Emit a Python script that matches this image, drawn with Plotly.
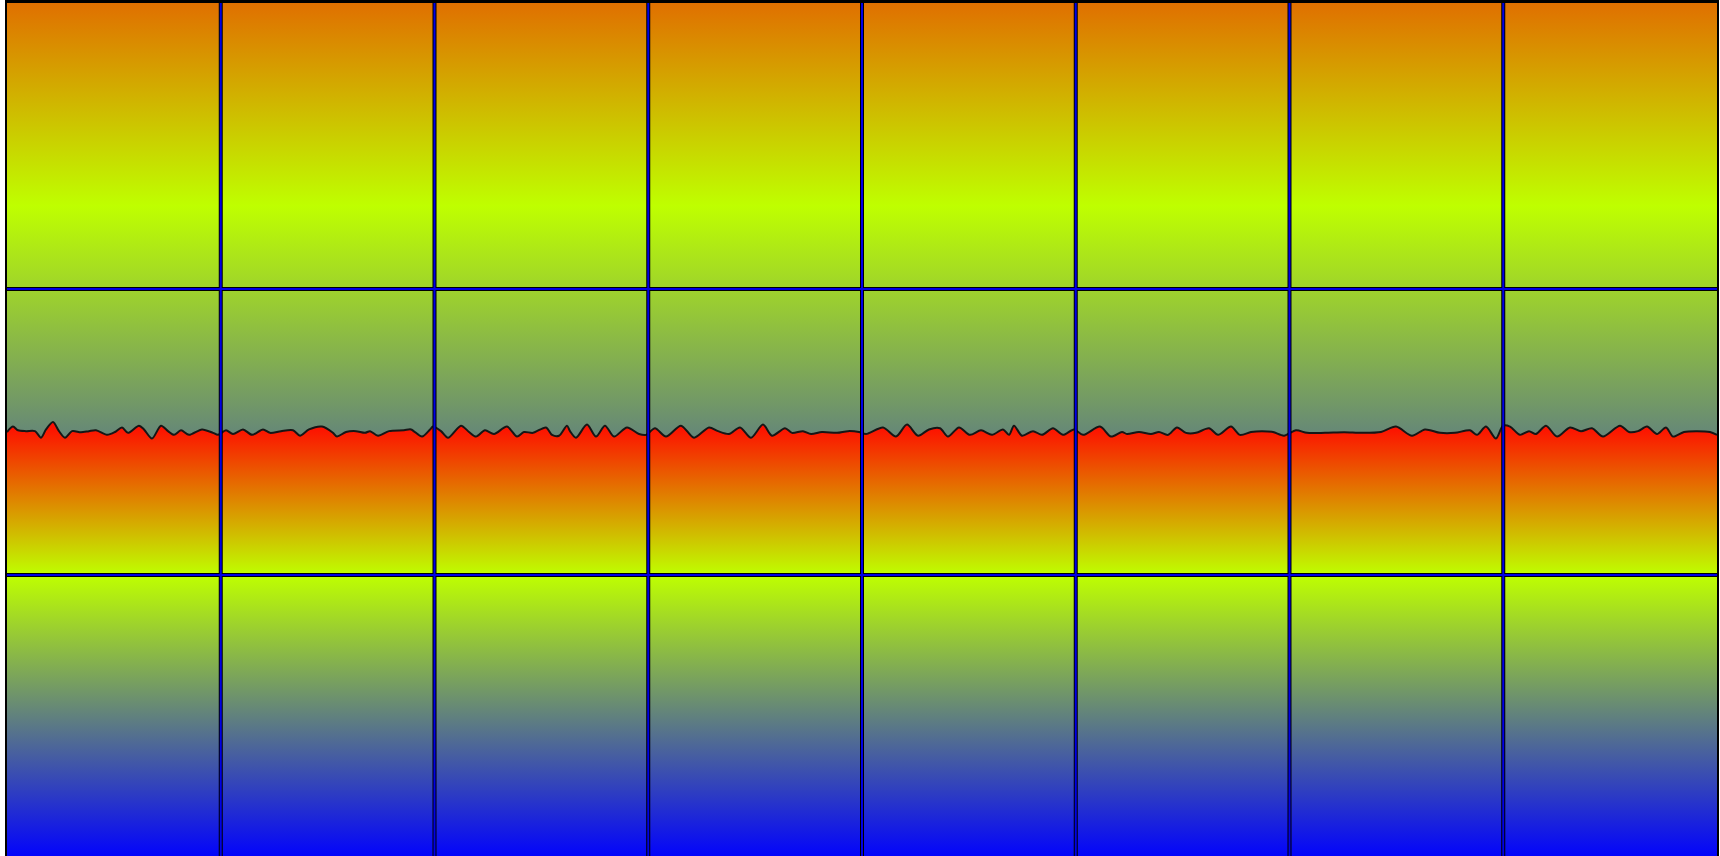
import plotly.graph_objects as go

# x positions (horizontal units, 0..1710) and line values
x_vals = [0, 6, 11, 19, 28, 34, 39, 46, 52, 58, 65, 74, 82, 89, 100, 108, 115, 121, 132, 137,
          145, 154, 161, 167, 174, 182, 195, 206, 211, 219, 226, 236, 245, 256, 263, 274, 286, 293,
          302, 315, 326, 330, 339, 349, 358, 363, 371, 382, 397, 404, 415, 423, 426, 434, 441, 454,
          462, 469, 478, 487, 500, 510, 517, 526, 539, 545, 552, 560, 563, 569, 580, 589, 598, 607,
          620, 632, 639, 648, 659, 674, 687, 702, 711, 722, 733, 744, 756, 765, 778, 785, 796, 804,
          815, 830, 841, 852, 859, 876, 889, 900, 911, 922, 933, 941, 952, 963, 974, 985, 996, 1002,
          1007, 1015, 1026, 1035, 1046, 1056, 1067, 1076, 1093, 1104, 1115, 1120, 1132, 1144, 1152,
          1161, 1170, 1179, 1189, 1202, 1211, 1224, 1233, 1244, 1255, 1266, 1277, 1289, 1300, 1318,
          1337, 1355, 1374, 1389, 1405, 1418, 1433, 1448, 1463, 1470, 1479, 1489, 1496, 1503, 1513,
          1522, 1529, 1539, 1550, 1563, 1574, 1585, 1596, 1613, 1622, 1631, 1640, 1650, 1659, 1666,
          1677, 1689, 1703, 1710]
y_vals = [1.500, 1.519, 1.506, 1.503, 1.503, 1.480, 1.509, 1.535, 1.503, 1.480, 1.503, 1.499,
          1.503, 1.506, 1.490, 1.500, 1.516, 1.497, 1.522, 1.509, 1.477, 1.522, 1.503, 1.490,
          1.506, 1.490, 1.509, 1.497, 1.490, 1.506, 1.493, 1.509, 1.490, 1.509, 1.497, 1.503,
          1.506, 1.487, 1.509, 1.519, 1.497, 1.484, 1.500, 1.503, 1.497, 1.503, 1.487, 1.503,
          1.506, 1.509, 1.484, 1.509, 1.519, 1.503, 1.480, 1.522, 1.500, 1.484, 1.506, 1.493,
          1.519, 1.484, 1.500, 1.497, 1.516, 1.490, 1.487, 1.522, 1.503, 1.480, 1.526, 1.484,
          1.522, 1.484, 1.516, 1.493, 1.490, 1.513, 1.484, 1.522, 1.480, 1.516, 1.503, 1.493,
          1.516, 1.480, 1.526, 1.487, 1.513, 1.497, 1.503, 1.493, 1.500, 1.497, 1.503, 1.500,
          1.493, 1.516, 1.484, 1.526, 1.487, 1.509, 1.513, 1.484, 1.516, 1.490, 1.506, 1.490,
          1.509, 1.490, 1.522, 1.487, 1.503, 1.490, 1.513, 1.490, 1.509, 1.490, 1.519, 1.484,
          1.500, 1.493, 1.500, 1.493, 1.500, 1.490, 1.516, 1.497, 1.497, 1.513, 1.490, 1.519,
          1.490, 1.500, 1.503, 1.500, 1.487, 1.506, 1.497, 1.497, 1.499, 1.497, 1.500, 1.519,
          1.487, 1.509, 1.497, 1.497, 1.506, 1.490, 1.519, 1.477, 1.522, 1.519, 1.490, 1.503,
          1.493, 1.522, 1.484, 1.516, 1.503, 1.513, 1.484, 1.522, 1.500, 1.503, 1.519, 1.493,
          1.516, 1.484, 1.500, 1.503, 1.500, 1.490]

x_range = [0, 1710]
y_range = [0.0175, 3]
x_grid = [213.75, 427.5, 641.25, 855, 1068.75, 1282.5, 1496.25]
y_grid = [1, 2]

BLUE = "rgb(0,0,255)"
LIME = "rgb(191,255,0)"
RED = "rgb(255,10,0)"
ORANGE = "rgb(224,112,0)"

fig = go.Figure()

# area under the line
fig.add_trace(go.Scatter(
    x=x_vals, y=y_vals, mode="lines", line=dict(width=0, shape="spline", smoothing=0.8),
    fill="tozeroy",
    fillgradient=dict(type="vertical", start=0, stop=1.53,
                      colorscale=[[0, BLUE], [0.654, LIME], [1, RED]]),
    hoverinfo="skip", showlegend=False))

# region above the line
fig.add_trace(go.Scatter(
    x=x_range, y=[y_range[1], y_range[1]], mode="lines", line=dict(width=0), fill="tonexty",
    fillgradient=dict(type="vertical", start=0.585, stop=3,
                      colorscale=[[0, BLUE], [0.706, LIME], [1, ORANGE]]),
    hoverinfo="skip", showlegend=False))

# the line itself
fig.add_trace(go.Scatter(
    x=x_vals, y=y_vals, mode="lines",
    line=dict(color="#161616", width=2, shape="spline", smoothing=0.8),
    showlegend=False))

shapes = []
for color, w in (("#000000", 4), ("#0000e6", 2)):
    for gx in x_grid:
        shapes.append(dict(type="line", xref="x", yref="paper", x0=gx, x1=gx, y0=0, y1=1,
                           line=dict(color=color, width=w), layer="above"))
    for gy in y_grid:
        shapes.append(dict(type="line", xref="paper", yref="y", x0=0, x1=1, y0=gy, y1=gy,
                           line=dict(color=color, width=w), layer="above"))

fig.update_layout(
    width=1720, height=856,
    margin=dict(l=7, r=3, t=3, b=0, pad=0),
    paper_bgcolor="white", plot_bgcolor="white",
    shapes=shapes,
    xaxis=dict(range=x_range, showgrid=False, zeroline=False, showticklabels=False,
               ticks="", side="top", showline=True, linecolor="black", linewidth=3),
    yaxis=dict(range=y_range, showgrid=False, zeroline=False, showticklabels=False,
               ticks="", showline=True, mirror=True, linecolor="black", linewidth=2),
)

fig.write_html("out.html", config={"displayModeBar": False},
               post_script="document.body.style.margin='0';")
